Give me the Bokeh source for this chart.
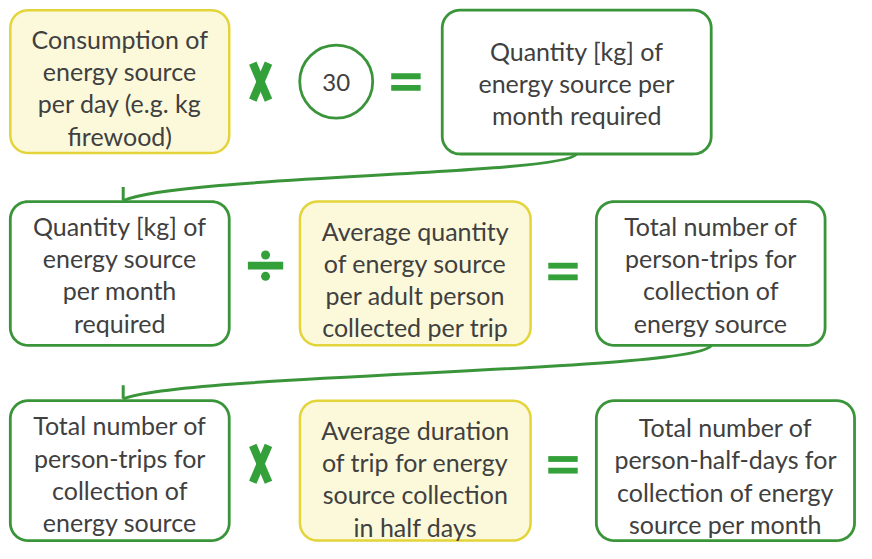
import numpy as np
from bokeh.plotting import figure
from bokeh.models import Range1d
from bokeh.core.properties import value
from bokeh.embed import file_html
from bokeh.resources import INLINE

# ---- content (text of each box) ----
box_texts = [
    ["Consumption of", "energy source", "per day (e.g. kg", "firewood)"],
    ["Quantity [kg] of", "energy source per", "month required"],
    ["Quantity [kg] of", "energy source", "per month", "required"],
    ["Average quantity", "of energy source", "per adult person", "collected per trip"],
    ["Total number of", "person-trips for", "collection of", "energy source"],
    ["Total number of", "person-trips for", "collection of", "energy source"],
    ["Average duration", "of trip for energy", "source collection", "in half days"],
    ["Total number of", "person-half-days for", "collection of energy", "source per month"],
]
box_kind = ["input", "result", "result", "input", "result", "result", "input", "result"]
multiplier_label = "30"

# ---- layout (diagram coordinates, y downward) ----
box_geom = [  # left, right, top, bottom, text-center offset
    (10, 233, 10, 157, 6),
    (450, 724, 10, 158, 1),
    (10, 233, 207, 355, 1),
    (305, 540, 207, 355, 6),
    (607, 840, 207, 355, 1),
    (10, 233, 412, 556, 3),
    (305, 540, 412, 556, 8),
    (607, 870, 412, 556, 5),
]
LINE_H = 33
GREEN = "#3a953a"
GREEN_SYM = "#34a03a"
YELLOW_FILL = "#fcf9db"
YELLOW_LINE = "#e3d43a"
TEXT = "#404040"
FONT = "Lato"
FSIZE = "25px"

W, H = 872, 559
p = figure(width=856, height=543, output_backend="svg", toolbar_location=None,
           x_range=Range1d(0, W), y_range=Range1d(H, 0), min_border=0)
p.axis.visible = False
p.grid.visible = False
p.outline_line_color = None
p.background_fill_color = "white"


def rounded_rect(l, r, t, b, rad=18, n=12):
    xs, ys = [], []
    corners = [(r - rad, t + rad, -np.pi / 2, 0), (r - rad, b - rad, 0, np.pi / 2),
               (l + rad, b - rad, np.pi / 2, np.pi), (l + rad, t + rad, np.pi, 1.5 * np.pi)]
    for cx, cy, a0, a1 in corners:
        a = np.linspace(a0, a1, n)
        xs.extend(cx + rad * np.cos(a))
        ys.extend(cy + rad * np.sin(a))
    return xs, ys


for (l, r, t, b, off), kind, lines in zip(box_geom, box_kind, box_texts):
    xs, ys = rounded_rect(l, r, t, b)
    if kind == "input":
        p.patch(xs, ys, fill_color=YELLOW_FILL, line_color=YELLOW_LINE, line_width=2.5)
    else:
        p.patch(xs, ys, fill_color="white", line_color=GREEN, line_width=2.8)
    cx = (l + r) / 2
    cy = (t + b) / 2 + off
    n = len(lines)
    ty = [cy + (i - (n - 1) / 2) * LINE_H for i in range(n)]
    p.text(x=[cx] * n, y=ty, text=lines, text_align="center", text_baseline="middle",
           text_font=value(FONT), text_font_size=FSIZE, text_color=TEXT)

# multiplier circle
p.scatter(x=[342], y=[83.5], size=73, marker="circle", fill_color="white",
          line_color=GREEN, line_width=2.8)
p.text(x=[342], y=[84], text=[multiplier_label], text_align="center", text_baseline="middle",
       text_font=value(FONT), text_font_size="24px", text_color=TEXT)


# operator symbols
def draw_times(cx, cy):
    p.segment(x0=[cx - 8, cx + 8], y0=[cy - 19, cy - 19], x1=[cx + 8, cx - 8], y1=[cy + 19, cy + 19],
              line_color=GREEN_SYM, line_width=8, line_cap="butt")


def draw_equals(cx, cy):
    p.quad(left=[cx - 15, cx - 15], right=[cx + 15, cx + 15],
           top=[cy - 9, cy + 3], bottom=[cy - 3, cy + 9], fill_color=GREEN_SYM, line_color=None)


def draw_divide(cx, cy):
    p.quad(left=[cx - 18], right=[cx + 18], top=[cy - 4], bottom=[cy + 4],
           fill_color=GREEN_SYM, line_color=None)
    p.scatter(x=[cx, cx], y=[cy - 11, cy + 11], size=9, marker="circle",
              fill_color=GREEN_SYM, line_color=None)


draw_times(265, 83.5)
draw_equals(413, 84)
draw_divide(270, 273)
draw_equals(573, 279)
draw_times(265, 477)
draw_equals(573, 478)

# connectors
p.bezier(x0=[587], y0=[158], x1=[125], y1=[206], cx0=[572], cy0=[180], cx1=[185], cy1=[180],
         line_color=GREEN, line_width=3)
p.segment(x0=[125], y0=[192], x1=[125], y1=[206], line_color=GREEN, line_width=3)
p.bezier(x0=[724], y0=[355], x1=[125], y1=[410], cx0=[712], cy0=[382], cx1=[190], cy1=[384],
         line_color=GREEN, line_width=3)
p.segment(x0=[125], y0=[396], x1=[125], y1=[410], line_color=GREEN, line_width=3)

open("out.html", "w").write(file_html(p, INLINE))
